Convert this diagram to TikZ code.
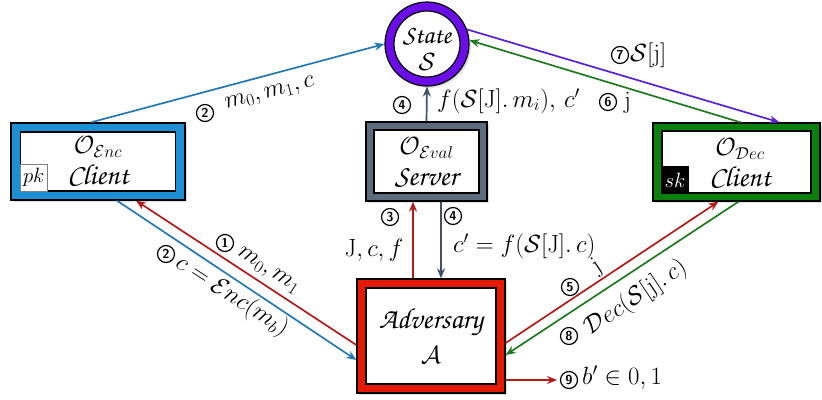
\documentclass[tikz,border=0pt]{standalone}
\usepackage[T1,TU]{fontenc}
\usepackage{amsmath,amssymb}
\usetikzlibrary{arrows.meta,shadows}
\newcommand\chanc{\fontencoding{T1}\fontfamily{pzc}\fontseries{m}\fontshape{it}\selectfont}
\definecolor{encblue}{HTML}{1E8FD2}
\definecolor{advred}{HTML}{E41A05}
\definecolor{decgreen}{HTML}{0C800C}
\definecolor{statepurple}{HTML}{6A0DE8}
\definecolor{evalgray}{HTML}{5C6B7E}
\definecolor{lblue}{HTML}{2178B5}
\definecolor{lred}{HTML}{B31B1B}
\definecolor{lgreen}{HTML}{1E7A1E}
\definecolor{lpurple}{HTML}{5B1FD6}
\definecolor{lgray}{HTML}{3F5068}
\begin{document}
\begin{tikzpicture}[x=1pt,y=-1pt,
  outerbox/.style={draw=black,line width=1.3pt,inner sep=0pt,drop shadow={opacity=0.25,shadow xshift=2pt,shadow yshift=-2pt}},
  innerbox/.style={draw=black,line width=1.3pt,fill=white,inner sep=0pt},
  cnum/.style={circle,draw=black,line width=1.2pt,inner sep=0pt,minimum size=17pt,font=\sffamily\bfseries\fontsize{13}{13}\selectfont},
  lab/.style={font=\fontsize{24}{26}\selectfont,inner sep=0pt},
  olab/.style={font=\fontsize{26}{28}\selectfont,inner sep=0pt},
  chtxt/.style={font=\chanc\fontsize{29}{31}\selectfont,inner sep=0pt},
  arr/.style={line width=1.7pt,-{Stealth[length=10pt,width=8pt]}},
]
\useasboundingbox (0,0) rectangle (822,399);

% State
\node[circle,draw=black,line width=1.2pt,fill=statepurple,minimum size=84pt,inner sep=0pt,drop shadow={opacity=0.25,shadow xshift=2pt,shadow yshift=-2pt}] (state) at (427,44) {};
\node[circle,draw=black,line width=1.2pt,fill=white,minimum size=66pt,inner sep=0pt] (statein) at (state) {};
\node[font=\chanc\fontsize{26}{28}\selectfont,inner sep=0pt] (statetxt) at (427,36) {State};
\node[lab] (stateS) at (427,62) {$\mathcal{S}$};

% Enc client
\node[outerbox,fill=encblue,minimum width=174pt,minimum height=77pt] (enc) at (98,161.5) {};
\node[innerbox,minimum width=155pt,minimum height=59pt] (encin) at (enc) {};
\node[draw=gray,line width=0.8pt,fill=white,minimum size=27pt,inner sep=0pt,anchor=south west,font=\fontsize{22}{24}\selectfont] (pk) at (encin.south west) {$pk$};
\node[olab] (enctxt) at (98,147) {$\mathcal{O}_{\mathcal{E}nc}$};
\node[chtxt] (enccl) at (98,174) {Client};

% Eval server
\node[outerbox,fill=evalgray,minimum width=121pt,minimum height=79pt] (eval) at (426.5,161.5) {};
\node[innerbox,minimum width=105pt,minimum height=63pt] (evalin) at (eval) {};
\node[olab] (evaltxt) at (426.5,148) {$\mathcal{O}_{\mathcal{E}val}$};
\node[chtxt] (evalsv) at (426.5,178) {Server};

% Dec client
\node[outerbox,fill=decgreen,minimum width=167pt,minimum height=78pt] (dec) at (736.5,162) {};
\node[innerbox,minimum width=149pt,minimum height=62pt] (decin) at (dec) {};
\node[fill=black,minimum size=27pt,inner sep=0pt,anchor=south west,text=white,font=\fontsize{22}{24}\selectfont] (sk) at (decin.south west) {$sk$};
\node[olab] (dectxt) at (740,149) {$\mathcal{O}_{\mathcal{D}ec}$};
\node[chtxt] (deccl) at (740,176) {Client};

% Adversary
\node[outerbox,fill=advred,minimum width=148pt,minimum height=114pt] (adv) at (431,336) {};
\node[innerbox,minimum width=130pt,minimum height=96pt] (advin) at (adv) {};
\node[chtxt] (advtxt) at (431,323) {Adversary};
\node[lab] (advA) at (431,355) {$\mathcal{A}$};

% connectors
\draw[arr,lblue] ([xshift=-7pt]enc.north) -- (state.west);
\draw[arr,lpurple] (state.20) -- ([xshift=43pt]dec.north);
\draw[arr,lgreen] ([xshift=4pt]dec.north) -- (state.5);
\draw[arr,lgray] (eval.north) -- (state.south);
\draw[arr,lred] ([xshift=-18pt]adv.north) -- ([xshift=-13.5pt]eval.south);
\draw[arr,lgray] ([xshift=14.5pt]eval.south) -- ([xshift=10pt]adv.north);
\draw[arr,lred] ([yshift=-9pt]adv.west) -- ([xshift=38pt]enc.south);
\draw[arr,lblue] ([xshift=19pt]enc.south) -- ([yshift=-24pt]adv.west);
\draw[arr,lred] ([yshift=-7pt]adv.east) -- ([xshift=-18pt]dec.south);
\draw[arr,lgreen] ([xshift=2pt]dec.south) -- ([yshift=-19pt]adv.east);
\coordinate (bout) at (557,380);
\draw[arr,lred] ([yshift=-44pt]adv.east) -- (bout);

% labels
\node[cnum] (c2a) at (205,113) {2};
\node[lab,rotate=14.3] (l2a) at (270,94) {$m_0, m_1, c$};
\node[cnum] (c7) at (620,55) {7};
\node[lab,anchor=west] (l7) at (630,55) {$\mathcal{S}[\mathrm{j}]$};
\node[cnum] (c6) at (608,102) {6};
\node[lab,anchor=west] (l6) at (624,103) {$\mathrm{j}$};
\node[cnum] (c4a) at (402,105) {4};
\node[lab,anchor=west] (l4a) at (437,101) {$f(\mathcal{S}[\mathrm{J}].\,m_i),\, c'$};
\node[cnum] (c3) at (390,217) {3};
\node[lab] (l3) at (374,250) {$\mathrm{J}, c, f$};
\node[cnum] (c4b) at (453,216) {4};
\node[lab,anchor=west] (l4b) at (453,246) {$c' = f(\mathcal{S}[\mathrm{J}].\,c)$};
\node[cnum] (c1) at (225,243) {1};
\node[lab,rotate=-33] (l1) at (268,271) {$m_0, m_1$};
\node[cnum] (c2b) at (166,254) {2};
\node[lab,rotate=-33] (l2b) at (232,296) {$c = \mathcal{E}nc(m_b)$};
\node[cnum] (c5) at (570,287) {5};
\node[lab,rotate=33.7] (l5) at (597,267) {$\mathrm{j}$};
\node[cnum] (c8) at (569,336) {8};
\node[lab,rotate=33.7] (l8) at (636,298) {$\mathcal{D}ec(\mathcal{S}[\mathrm{j}].\,c)$};
\node[cnum] (c9) at (569,380) {9};
\node[lab,anchor=west] (l9) at (582,378) {$b' \in 0,1$};
\end{tikzpicture}
\end{document}
